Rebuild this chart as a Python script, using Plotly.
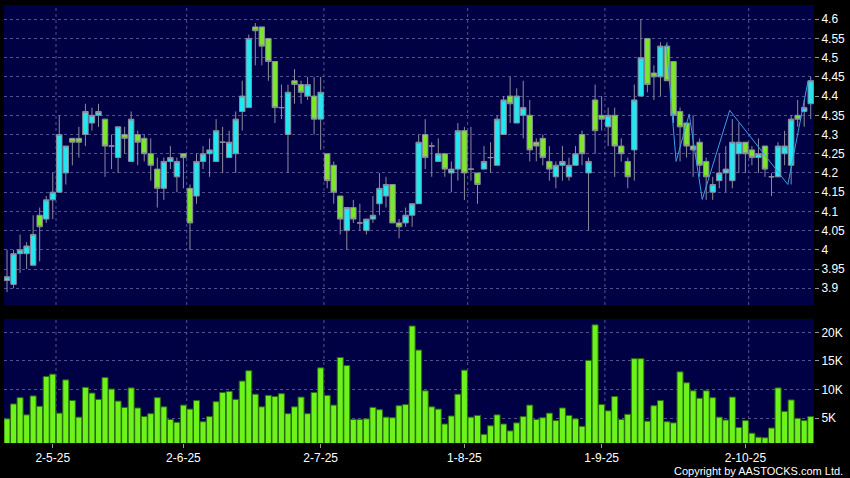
import plotly.graph_objects as go
from plotly.subplots import make_subplots

# ---- trading days (HK), Apr 22 2025 .. Oct 17 2025 ----
apr_days = [22, 23, 24, 25, 28, 29, 30]
may_days = [2, 6, 7, 8, 9, 12, 13, 14, 15, 16, 19, 20, 21, 22, 23, 26, 27, 28, 29, 30]
jun_days = [2, 3, 4, 5, 6, 9, 10, 11, 12, 13, 16, 17, 18, 19, 20, 23, 24, 25, 26, 27, 30]
jul_days = [2, 3, 4, 7, 8, 9, 10, 11, 14, 15, 16, 17, 18, 21, 22, 23, 24, 25, 28, 29, 30, 31]
aug_days = [1, 4, 5, 6, 7, 8, 11, 12, 13, 14, 15, 18, 19, 20, 21, 22, 25, 26, 27, 28, 29]
sep_days = [1, 2, 3, 4, 5, 8, 9, 10, 11, 12, 15, 16, 17, 18, 19, 22, 23, 24, 25, 26, 29, 30]
oct_days = [2, 3, 6, 8, 9, 10, 13, 14, 15, 16, 17]
month_days = [(4, apr_days), (5, may_days), (6, jun_days), (7, jul_days),
              (8, aug_days), (9, sep_days), (10, oct_days)]

open_ = [3.92, 3.91, 3.99, 3.99, 3.96, 4.09, 4.08, 4.13, 4.15, 4.20,
         4.29, 4.29, 4.30, 4.33, 4.35, 4.34, 4.27, 4.24, 4.30, 4.23,
         4.30, 4.29, 4.25, 4.21, 4.16, 4.23, 4.19, 4.25, 4.16, 4.14,
         4.23, 4.25, 4.23, 4.28, 4.24, 4.25, 4.36, 4.37, 4.58, 4.58,
         4.55, 4.49, 4.37, 4.30, 4.44, 4.43, 4.40, 4.40, 4.34, 4.25,
         4.22, 4.14, 4.05, 4.11, 4.07, 4.05, 4.08, 4.12, 4.14, 4.17,
         4.07, 4.07, 4.09, 4.12, 4.30, 4.27, 4.23, 4.25, 4.20, 4.21,
         4.31, 4.21, 4.20, 4.21, 4.24, 4.22, 4.30, 4.40, 4.33, 4.35,
         4.35, 4.28, 4.29, 4.23, 4.19, 4.22, 4.19, 4.22, 4.30, 4.20,
         4.39, 4.35, 4.32, 4.35, 4.27, 4.23, 4.26, 4.40, 4.55, 4.46,
         4.45, 4.53, 4.49, 4.36, 4.33, 4.27, 4.28, 4.23, 4.15, 4.18,
         4.20, 4.18, 4.25, 4.28, 4.26, 4.24, 4.27, 4.19, 4.19, 4.25,
         4.22, 4.35, 4.36, 4.38]
high = [4.00, 4.00, 4.04, 4.02, 4.09, 4.11, 4.14, 4.20, 4.35, 4.27,
        4.29, 4.32, 4.38, 4.37, 4.38, 4.34, 4.30, 4.32, 4.32, 4.36,
        4.31, 4.30, 4.29, 4.24, 4.24, 4.27, 4.24, 4.25, 4.17, 4.25,
        4.27, 4.29, 4.34, 4.32, 4.31, 4.36, 4.44, 4.56, 4.59, 4.58,
        4.55, 4.49, 4.43, 4.43, 4.47, 4.44, 4.45, 4.45, 4.45, 4.25,
        4.23, 4.14, 4.11, 4.13, 4.12, 4.08, 4.14, 4.20, 4.19, 4.17,
        4.08, 4.11, 4.12, 4.30, 4.34, 4.28, 4.29, 4.25, 4.23, 4.33,
        4.32, 4.32, 4.20, 4.27, 4.28, 4.35, 4.40, 4.45, 4.42, 4.44,
        4.39, 4.29, 4.30, 4.27, 4.23, 4.27, 4.24, 4.27, 4.31, 4.24,
        4.43, 4.40, 4.37, 4.37, 4.29, 4.24, 4.43, 4.60, 4.55, 4.48,
        4.54, 4.54, 4.49, 4.37, 4.33, 4.35, 4.29, 4.24, 4.19, 4.25,
        4.27, 4.34, 4.33, 4.28, 4.27, 4.29, 4.27, 4.20, 4.28, 4.31,
        4.35, 4.39, 4.39, 4.45]
low = [3.89, 3.90, 3.94, 3.95, 3.96, 3.97, 4.07, 4.08, 4.15, 4.17,
       4.22, 4.24, 4.27, 4.31, 4.32, 4.19, 4.21, 4.20, 4.25, 4.23,
       4.22, 4.23, 4.18, 4.11, 4.13, 4.21, 4.15, 4.16, 4.00, 4.12,
       4.21, 4.19, 4.23, 4.20, 4.24, 4.20, 4.31, 4.37, 4.48, 4.48,
       4.44, 4.33, 4.34, 4.20, 4.38, 4.38, 4.39, 4.30, 4.26, 4.16,
       4.12, 4.04, 4.00, 4.07, 4.05, 4.04, 4.07, 4.09, 4.11, 4.07,
       4.03, 4.06, 4.06, 4.12, 4.21, 4.19, 4.23, 4.19, 4.15, 4.18,
       4.13, 4.18, 4.12, 4.21, 4.20, 4.22, 4.30, 4.33, 4.33, 4.29,
       4.23, 4.23, 4.22, 4.18, 4.16, 4.18, 4.18, 4.22, 4.22, 4.05,
       4.25, 4.31, 4.27, 4.19, 4.23, 4.16, 4.18, 4.40, 4.41, 4.39,
       4.40, 4.44, 4.33, 4.23, 4.24, 4.19, 4.19, 4.13, 4.13, 4.16,
       4.15, 4.16, 4.20, 4.20, 4.22, 4.20, 4.19, 4.14, 4.19, 4.22,
       4.17, 4.32, 4.32, 4.34]
close = [3.93, 3.99, 4.00, 4.01, 4.04, 4.06, 4.13, 4.15, 4.30, 4.27,
         4.28, 4.28, 4.36, 4.35, 4.36, 4.27, 4.27, 4.32, 4.29, 4.34,
         4.28, 4.25, 4.22, 4.16, 4.23, 4.24, 4.23, 4.24, 4.07, 4.23,
         4.25, 4.26, 4.31, 4.28, 4.28, 4.34, 4.40, 4.55, 4.57, 4.53,
         4.49, 4.37, 4.37, 4.41, 4.43, 4.41, 4.43, 4.34, 4.41, 4.18,
         4.15, 4.08, 4.11, 4.08, 4.07, 4.08, 4.09, 4.16, 4.17, 4.07,
         4.06, 4.09, 4.12, 4.28, 4.24, 4.27, 4.25, 4.21, 4.21, 4.31,
         4.20, 4.21, 4.17, 4.23, 4.24, 4.34, 4.39, 4.38, 4.40, 4.37,
         4.26, 4.27, 4.24, 4.21, 4.22, 4.23, 4.22, 4.25, 4.25, 4.23,
         4.31, 4.34, 4.35, 4.27, 4.25, 4.19, 4.39, 4.50, 4.43, 4.45,
         4.53, 4.44, 4.35, 4.32, 4.27, 4.26, 4.22, 4.19, 4.17, 4.20,
         4.21, 4.28, 4.28, 4.25, 4.24, 4.25, 4.21, 4.19, 4.27, 4.27,
         4.34, 4.34, 4.37, 4.44]
volume = [4.9, 7.5, 8.6, 5.6, 8.9, 7.1, 12.3, 12.7, 5.9, 11.7,
          8.1, 5.2, 10.4, 9.4, 8.3, 12.1, 10.1, 8.0, 6.9, 10.3,
          6.8, 5.3, 5.8, 8.6, 7.0, 4.8, 4.3, 7.3, 6.6, 8.1,
          4.4, 5.3, 7.9, 9.5, 9.7, 8.3, 11.5, 13.3, 9.2, 7.0,
          9.0, 8.8, 9.3, 5.8, 7.0, 8.7, 5.8, 9.5, 13.8, 9.0,
          7.3, 15.6, 14.2, 4.8, 4.8, 4.9, 6.9, 6.5, 5.2, 5.1,
          7.2, 7.4, 21.1, 16.9, 9.8, 7.0, 6.6, 4.0, 5.4, 9.2,
          13.4, 5.2, 5.5, 2.2, 3.7, 5.6, 4.0, 2.8, 4.2, 5.3,
          7.3, 4.8, 5.1, 5.9, 4.6, 6.8, 5.5, 4.9, 3.6, 15.1,
          21.3, 7.4, 6.3, 8.8, 4.8, 5.7, 15.4, 15.4, 4.5, 7.2,
          8.1, 4.4, 4.2, 13.1, 11.2, 9.8, 8.5, 9.8, 8.6, 5.2,
          4.7, 8.7, 3.4, 4.6, 2.4, 1.7, 1.6, 3.3, 10.3, 6.2,
          8.2, 5.0, 4.6, 5.3]  # thousands of shares

# hand-drawn trend line (bar position, price)
trend_pos = [100.9, 102.4, 104.4, 106.4, 110.6, 119.5, 122.6]
trend_price = [4.535, 4.23, 4.353, 4.131, 4.363, 4.17, 4.44]

price_ticks = [3.9, 3.95, 4.0, 4.05, 4.1, 4.15, 4.2, 4.25, 4.3, 4.35,
               4.4, 4.45, 4.5, 4.55, 4.6]
vol_ticks = [5, 10, 15, 20]

# ---- derived ----
dates = []
date_labels = []
month_start_idx = []
for m, days in month_days:
    for j, d in enumerate(days):
        if j == 0 and m != 4:
            month_start_idx.append(len(dates))
            date_labels.append(f"{d}-{m}-25")
        dates.append(f"2025-{m:02d}-{d:02d}")
n = len(dates)
xs = list(range(n))
vol_shares = [v * 1000 for v in volume]

BG = "#000044"
GRID = "rgba(110,110,170,0.75)"
FONT = "Liberation Sans"

fig = make_subplots(rows=2, cols=1, shared_xaxes=True)

fig.add_trace(go.Candlestick(
    x=xs, open=open_, high=high, low=low, close=close,
    increasing=dict(line=dict(color="#8c8c9c", width=1), fillcolor="#22e6f0"),
    decreasing=dict(line=dict(color="#8c8c9c", width=1), fillcolor="#7be62a"),
    whiskerwidth=0, text=dates, hoverinfo="text+y", showlegend=False,
), row=1, col=1)

fig.add_trace(go.Scatter(
    x=trend_pos, y=trend_price, mode="lines",
    line=dict(color="#3c9ee6", width=1), hoverinfo="skip", showlegend=False,
), row=1, col=1)

fig.add_trace(go.Bar(
    x=xs, y=vol_shares,
    marker=dict(color="#6ef21c", line=dict(color="#2a6a10", width=1)),
    text=dates, hoverinfo="text+y", textposition="none", showlegend=False,
), row=2, col=1)

# vertical month gridlines (between last day of prior month and first day)
for i in month_start_idx:
    for yr in ("y domain", "y2 domain"):
        fig.add_shape(type="line", xref="x", yref=yr, x0=i + 0.5, x1=i + 0.5,
                      y0=0, y1=1, line=dict(color=GRID, width=1, dash="3px,3px"),
                      layer="below")

xrange = [-0.46, n - 0.5]
fig.update_layout(
    width=850, height=478,
    margin=dict(l=4, r=36, t=5, b=35),
    paper_bgcolor="#000000", plot_bgcolor=BG,
    boxgap=0.17, boxgroupgap=0, bargap=0.08,
    font=dict(family=FONT, color="#ffffff", size=12),
    showlegend=False,
    xaxis=dict(domain=[0, 1], range=xrange, showgrid=False, showticklabels=False,
               zeroline=False, rangeslider=dict(visible=False), ticks=""),
    xaxis2=dict(domain=[0, 1], range=xrange, showgrid=False, zeroline=False,
                tickmode="array", tickvals=month_start_idx,
                ticktext=date_labels, ticks="outside", ticklen=4, tickcolor="#999999",
                tickfont=dict(size=12, color="#ffffff", family=FONT),
                rangeslider=dict(visible=False)),
    yaxis=dict(domain=[0.3151, 1], range=[3.8565, 4.637], side="right",
               tickmode="array", tickvals=price_ticks,
               ticktext=[f"{t:g}" for t in price_ticks],
               showgrid=True, gridcolor=GRID, griddash="3px,3px", gridwidth=1,
               zeroline=False, ticks="outside", ticklen=4, tickcolor="#999999",
               tickfont=dict(size=12, color="#ffffff", family=FONT)),
    yaxis2=dict(domain=[0, 0.2831], range=[690, 22320], side="right",
                tickmode="array", tickvals=[t * 1000 for t in vol_ticks],
                ticktext=[f"{t}K" for t in vol_ticks],
                showgrid=True, gridcolor=GRID, griddash="3px,3px", gridwidth=1,
                zeroline=False, ticks="outside", ticklen=4, tickcolor="#999999",
                tickfont=dict(size=12, color="#ffffff", family=FONT)),
    annotations=[dict(text="Copyright by AASTOCKS.com Ltd.", xref="paper", yref="paper",
                      x=(845 - 4) / 810, y=-(471.5 - 443) / 438, xanchor="right",
                      yanchor="middle", showarrow=False,
                      font=dict(size=11, color="#ffffff", family=FONT))],
)

fig.write_html("out.html", config={"displayModeBar": False},
               post_script="document.body.style.margin='0';document.body.style.background='#000';")
